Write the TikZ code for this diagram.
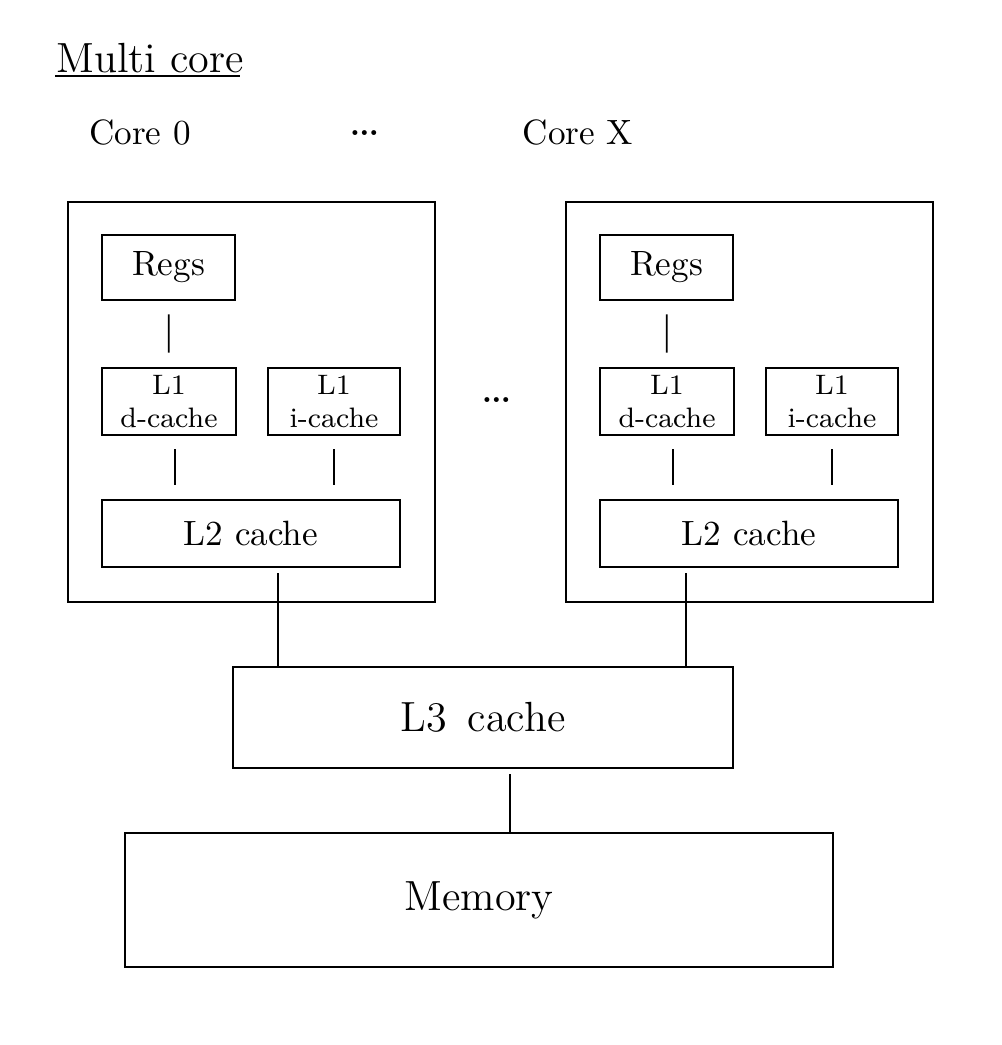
\documentclass[tikz,border=0pt]{standalone}
\usepackage{tikz}
\usetikzlibrary{calc,positioning}

\tikzset{
  block/.style={draw, line width=0.8pt, inner sep=0pt, align=center},
  l1box/.style={block, font=\footnotesize, minimum height=6.7mm},
  link/.style={line width=0.5pt, shorten <=1.3mm, shorten >=1.4mm},
  busline/.style={line width=0.5pt, shorten <=0.5mm},
}

\begin{document}
\begin{tikzpicture}[x=0.1mm,y=-0.1mm]
    \useasboundingbox (0,0) rectangle (1001,1045);

    % title
    \node (title) at (150,58) {\large Multi core};
    \draw[line width=0.8pt] (55,76) -- (240,76);

    % core labels
    \node (core0) at (140,133) {Core 0};
    \node (dotstop) at (365,133) {\Large\dots};
    \node (corex) at (578,133) {Core X};

    % the two cores
    \foreach \c/\dx in {a/0, b/498} {
        \node[block, minimum width=36.7mm, minimum height=40mm] (core\c) at (251.5+\dx,402) {};
        \node[block, minimum width=13.3mm, minimum height=6.5mm] (regs\c) at (168.5+\dx,267.5) {Regs};
        \node[l1box, minimum width=13.4mm] (lone\c) at (169+\dx,401.5) {L1\\d-cache};
        \node[l1box, minimum width=13.2mm] (ltwoi\c) at (334+\dx,401.5) {L1\\i-cache};
        \node[block, minimum width=29.8mm, minimum height=6.7mm] (l2\c) at (251+\dx,533.5) {L2 cache};

        \draw[link] (regs\c) -- (lone\c);
        \draw[link] ($(lone\c.south)+(6,0)$) coordinate (p\c) -- (p\c |- l2\c.north);
        \draw[link] (ltwoi\c) -- (ltwoi\c |- l2\c.north);
    }

    \node (dotsmid) at (497,400) {\Large\dots};

    % shared levels
    \node[block, minimum width=50mm, minimum height=10.1mm] (l3) at (483,717.5) {\large L3\, cache};
    \node[block, minimum width=70.8mm, minimum height=13.4mm] (mem) at (479,900) {\large Memory};

    \draw[busline] ($(l2a.south)+(27,0)$) coordinate (qa) -- (qa |- l3.north);
    \draw[busline] ($(l2b.south)+(-63,0)$) coordinate (qb) -- (qb |- l3.north);
    \draw[busline] ($(l3.south)+(27,0)$) coordinate (qm) -- (qm |- mem.north);
\end{tikzpicture}
\end{document}
